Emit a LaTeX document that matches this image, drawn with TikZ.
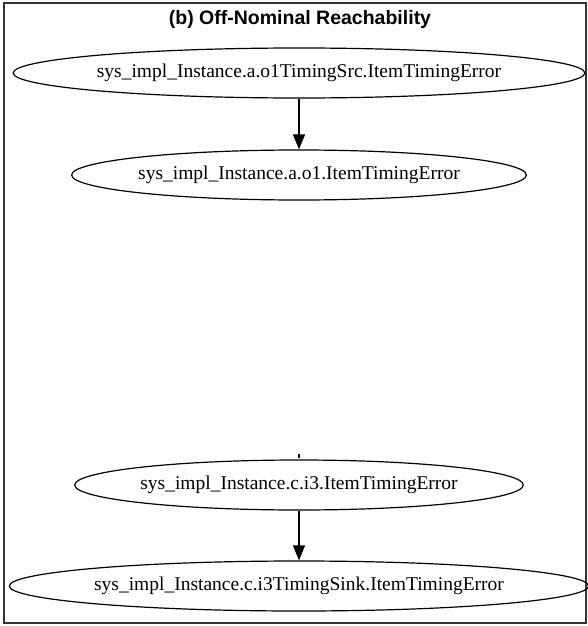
\documentclass[tikz,border=0pt]{standalone}
\usepackage{fontspec}
\setmainfont{Liberation Serif}
\newfontfamily\headfont{Liberation Sans}
\usetikzlibrary{shapes.geometric, arrows.meta}

\begin{document}
\begin{tikzpicture}[x=1pt, y=-1pt,
  event/.style={draw, ellipse, line width=1.2pt, inner sep=0pt,
    minimum height=50pt,
    font=\fontsize{19.5}{23}\selectfont},
  flow/.style={draw, line width=1.2pt,
    -{Triangle[length=15pt, width=12pt]}},
  frame/.style={draw=black!80, line width=1.4pt},
  caption/.style={font=\headfont\bfseries\fontsize{19.5}{23}\selectfont}
]
  \useasboundingbox (0,0) rectangle (587,626);

  % cluster frame and its caption
  \draw[frame] (4,3) rectangle (586,623);
  \node[caption] (title) at (300,19) {(b) Off-Nominal Reachability};

  % error events
  \node[event, minimum width=561pt] (src)  at (299,73)
    {sys\_impl\_Instance.a.o1TimingSrc.ItemTimingError};
  \node[event, minimum width=451pt] (o1)   at (299,175)
    {sys\_impl\_Instance.a.o1.ItemTimingError};
  \node[event, minimum width=446pt] (i3)   at (299,485)
    {sys\_impl\_Instance.c.i3.ItemTimingError};
  \node[event, minimum width=567pt] (sink) at (299,586)
    {sys\_impl\_Instance.c.i3TimingSink.ItemTimingError};

  % propagation edges
  \draw[flow] (src) -- (o1);
  \draw[flow] (i3) -- (sink);

  % stub of an edge ending just above i3
  \coordinate (stubA) at (299,454);
  \coordinate (stubB) at (299,458);
  \draw[line width=1.4pt] (stubA) -- (stubB);
\end{tikzpicture}
\end{document}
